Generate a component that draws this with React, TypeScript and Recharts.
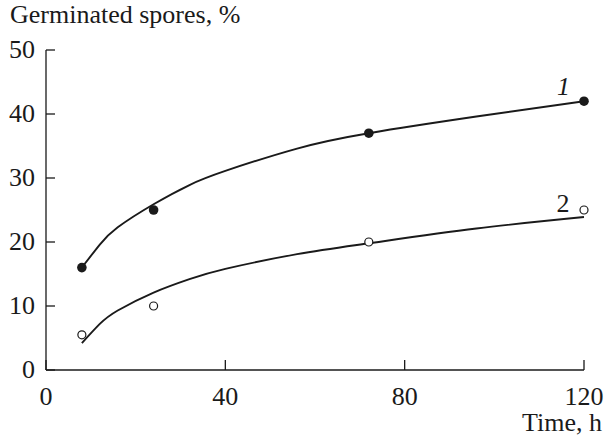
import { ComposedChart, Line, Scatter, XAxis, YAxis, ReferenceDot } from 'recharts';

// measured points
const times = [8, 24, 72, 120];
const sporesFilled = [16, 25, 37, 42];
const sporesOpen = [5.5, 10, 20, 25];

// fitted curves
const curveTimes = [8, 12, 16, 24, 32, 40, 56, 72, 96, 120];
const curve1 = [16, 19.6, 22.3, 25.9, 28.9, 31.1, 34.6, 37, 39.6, 42];
const curve2 = [4.2, 7.2, 9.3, 12.1, 14.2, 15.8, 18.1, 19.8, 22.1, 23.9];

const xTicks = [0, 40, 80, 120];
const yTicks = [0, 10, 20, 30, 40, 50];

const points1 = times.map((t, i) => ({ t, v: sporesFilled[i] }));
const points2 = times.map((t, i) => ({ t, v: sporesOpen[i] }));
const line1 = curveTimes.map((t, i) => ({ t, v: curve1[i] }));
const line2 = curveTimes.map((t, i) => ({ t, v: curve2[i] }));

const font = "Liberation Serif, DejaVu Serif, Times New Roman, serif";
const ink = '#1a1a1a';
const txt = { fontFamily: font, fontSize: 26 };

const XTick = (props: any) => {
  const { x, y, payload } = props;
  return (
    <g>
      <line x1={x} x2={x} y1={y} y2={y - 10} stroke={ink} strokeWidth={1.3} />
      <text x={x} y={y + 35} textAnchor="middle" fontFamily={font} fontSize={26} fill={ink}>
        {payload.value}
      </text>
    </g>
  );
};

const YTick = (props: any) => {
  const { x, y, payload } = props;
  return (
    <g>
      <line x1={x} x2={x + 9} y1={y} y2={y} stroke={ink} strokeWidth={1.3} />
      <text x={x - 11} y={y + 8} textAnchor="end" fontFamily={font} fontSize={26} fill={ink}>
        {payload.value}
      </text>
    </g>
  );
};

const App = () => {
  return (
    <div style={{ position: 'absolute', left: 0, top: 0, background: '#fff', fontFamily: font }}>
      <ComposedChart
        width={605}
        height={439}
        margin={{ top: 50, right: 21, left: 0, bottom: 0 }}
        style={{ fontFamily: font }}
      >
        <XAxis
          type="number"
          dataKey="t"
          domain={[0, 120]}
          ticks={xTicks}
          height={69}
          tickSize={0}
          tickMargin={0}
          tickLine={false}
          tick={<XTick />}
          stroke={ink}
          strokeWidth={1.3}
          label={() => (
            <text x={602} y={431} textAnchor="end" style={txt} fill={ink}>
              Time, h
            </text>
          )}
        />
        <YAxis
          type="number"
          dataKey="v"
          domain={[0, 50]}
          ticks={yTicks}
          width={46}
          tickSize={0}
          tickMargin={0}
          tickLine={false}
          tick={<YTick />}
          stroke={ink}
          strokeWidth={1.3}
          label={() => (
            <text x={10} y={23} textAnchor="start" style={txt} fill={ink}>
              Germinated spores, %
            </text>
          )}
        />
        <Line data={line1} dataKey="v" type="natural" stroke={ink} strokeWidth={1.9} dot={false} isAnimationActive={false} />
        <Line data={line2} dataKey="v" type="natural" stroke={ink} strokeWidth={1.9} dot={false} isAnimationActive={false} />
        <Scatter
          data={points1}
          dataKey="v"
          isAnimationActive={false}
          shape={(p: any) => <circle cx={p.cx} cy={p.cy} r={4.8} fill={ink} />}
        />
        <Scatter
          data={points2}
          dataKey="v"
          isAnimationActive={false}
          shape={(p: any) => <circle cx={p.cx} cy={p.cy} r={4} fill="#fff" stroke={ink} strokeWidth={1.2} />}
        />
        <ReferenceDot
          x={115.4}
          y={43}
          r={0}
          shape={(p: any) => (
            <text x={p.cx} y={p.cy} textAnchor="middle" style={{ ...txt, fontStyle: 'italic' }} fill={ink}>
              1
            </text>
          )}
        />
        <ReferenceDot
          x={115.3}
          y={24.7}
          r={0}
          shape={(p: any) => (
            <text x={p.cx} y={p.cy} textAnchor="middle" style={txt} fill={ink}>
              2
            </text>
          )}
        />
      </ComposedChart>
    </div>
  );
};

export default App;
